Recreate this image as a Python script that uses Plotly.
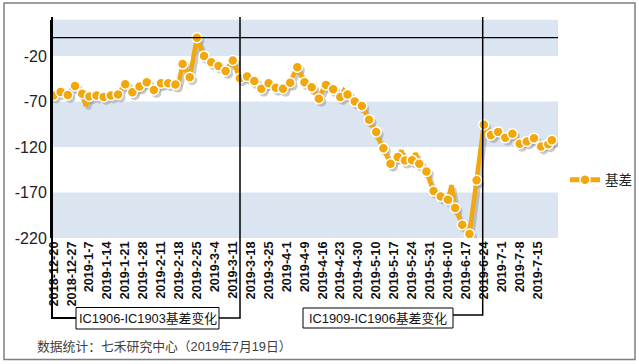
import plotly.graph_objects as go
import pandas as pd

# ---------------- data ----------------
start_date = "2018-12-20"
end_date = "2019-07-19"
holidays = ["2018-12-31", "2019-01-01", "2019-02-04", "2019-02-05", "2019-02-06",
            "2019-02-07", "2019-02-08", "2019-04-05", "2019-05-01", "2019-05-02",
            "2019-05-03", "2019-06-07"]

basis = [
    -63.5, -60, -59.5, -61, -63, -57, -53, -58, -61.5, -75,
    -64.5, -63, -63.5, -64, -65, -64, -63.5, -63, -62.5, -56,
    -51, -55, -60, -57, -53.5, -51, -49, -53, -57.5, -54,
    -50, -50, -50, -50, -51.5, -48, -29, -36, -43.5, -22,
    0, -10, -20, -24, -27, -29, -31, -34, -36.5, -30,
    -25, -35, -44.5, -44, -42.5, -45, -47.5, -52, -56, -53,
    -50, -52, -55, -55, -56, -53, -49.5, -40, -32.5, -41,
    -49, -52, -54.5, -60, -67, -58, -52, -53, -56.5, -60,
    -65, -58, -62.5, -66, -70, -72, -75, -82, -90, -97,
    -103.5, -112, -121.5, -130, -138.5, -134, -131, -124, -135, -135,
    -134.5, -127, -138.5, -142, -147, -158, -168.5, -172, -174.5, -176,
    -178, -162, -187, -196, -205.5, -210, -215.5, -186, -156.5, -126,
    -95.5, -101, -107, -105, -103.5, -107, -110, -108, -105.5, -111,
    -116.5, -115, -114, -112, -110.5, -115, -119.5, -118, -117, -112.5,
]

series_name = "基差"
y_ticks = [-220, -170, -120, -70, -20]
y_tick_text = ["-220", "-170", "-120", "-70", "-20"]
box_labels = ["IC1906-IC1903基差变化", "IC1909-IC1906基差变化"]
footer = "数据统计：七禾研究中心（2019年7月19日）"

# ---------------- derived ----------------
days = pd.bdate_range(start_date, end_date)
days = [d for d in days if d.strftime("%Y-%m-%d") not in holidays]
date_labels = [f"{d.year}-{d.month}-{d.day}" for d in days]
idx = list(range(len(basis)))

W, H = 639, 364
def px(x): return x / W
def py(y): return 1 - y / H

ORANGE = "#F2A80C"
SHADOW = "rgba(140,140,140,0.45)"
FONT = "Liberation Sans, Arial, Noto Sans CJK SC, sans-serif"

x_left, x_right = 52, 558
y_top, y_bot = 19.5, 238
x_range = [-0.42, 140.7]
y_range = [-220, 20]
ppx = (x_right - x_left) / (x_range[1] - x_range[0])
ppy = (y_bot - y_top) / (y_range[1] - y_range[0])
sdx, sdy = 2.5 / ppx, -3.0 / ppy

mk_idx = [i for i in idx if i % 2 == 0] + [idx[-1]]
mk_val = [basis[i] for i in mk_idx]

fig = go.Figure()
# shadow
fig.add_trace(go.Scatter(x=[i + sdx for i in idx], y=[v + sdy for v in basis], mode="lines",
                         line=dict(color=SHADOW, width=4.5), showlegend=False, hoverinfo="skip"))
fig.add_trace(go.Scatter(x=[i + sdx for i in mk_idx], y=[v + sdy for v in mk_val], mode="markers",
                         marker=dict(color=SHADOW, size=10), showlegend=False, hoverinfo="skip"))
# main
fig.add_trace(go.Scatter(x=idx, y=basis, mode="lines", line=dict(color=ORANGE, width=4.5),
                         showlegend=False))
fig.add_trace(go.Scatter(x=mk_idx, y=mk_val, mode="markers",
                         marker=dict(color=ORANGE, size=10, line=dict(color="white", width=1.5)),
                         showlegend=False))
# legend entry
fig.add_trace(go.Scatter(x=[None], y=[None], mode="lines+markers", name=series_name,
                         line=dict(color=ORANGE, width=5),
                         marker=dict(color=ORANGE, size=10, line=dict(color="white", width=1.5))))

shapes = []
# bands
for lo, hi in [(-220, -170), (-120, -70), (-20, 20)]:
    shapes.append(dict(type="rect", xref="x domain", yref="y", x0=0, x1=1, y0=lo, y1=hi,
                       fillcolor="#DBE5F1", line=dict(width=0), layer="below"))
# zero axis line
shapes.append(dict(type="line", xref="x domain", yref="y", x0=0, x1=1, y0=0, y1=0,
                   line=dict(color="black", width=1.3)))
# outer border
shapes.append(dict(type="rect", xref="paper", yref="paper", x0=px(4), x1=px(635), y0=py(359.5), y1=py(3),
                   line=dict(color="#7F7F7F", width=1.5)))
# bracket 1
shapes.append(dict(type="path", xref="paper", yref="paper",
                   path=f"M {px(52)},{py(17)} L {px(52)},{py(318)} L {px(76)},{py(318)}",
                   line=dict(color="black", width=2)))
shapes.append(dict(type="path", xref="paper", yref="paper",
                   path=f"M {px(219)},{py(318)} L {px(240)},{py(318)} L {px(240)},{py(17)}",
                   line=dict(color="black", width=1.5)))
shapes.append(dict(type="rect", xref="paper", yref="paper", x0=px(76), x1=px(219), y0=py(329), y1=py(307.5),
                   line=dict(color="black", width=1), fillcolor="white"))
# bracket 2
shapes.append(dict(type="path", xref="paper", yref="paper",
                   path=f"M {px(453)},{py(315)} L {px(482.7)},{py(315)} L {px(482.7)},{py(17)}",
                   line=dict(color="black", width=1.5)))
shapes.append(dict(type="rect", xref="paper", yref="paper", x0=px(303), x1=px(453), y0=py(328), y1=py(308),
                   line=dict(color="black", width=1), fillcolor="white"))

annotations = [
    dict(text=box_labels[0], xref="paper", yref="paper", x=px(147.5), y=py(318.5), showarrow=False,
         font=dict(family=FONT, size=12.8, color="#111"), xanchor="center", yanchor="middle"),
    dict(text=box_labels[1], xref="paper", yref="paper", x=px(378), y=py(318), showarrow=False,
         font=dict(family=FONT, size=12.8, color="#111"), xanchor="center", yanchor="middle"),
    dict(text=footer, xref="paper", yref="paper", x=px(35), y=py(346), showarrow=False,
         font=dict(family=FONT, size=12.8, color="#404040"), xanchor="left", yanchor="middle"),
]

fig.update_layout(
    width=W, height=H, margin=dict(l=0, r=0, t=0, b=0, autoexpand=False),
    paper_bgcolor="white", plot_bgcolor="white",
    font=dict(family=FONT),
    shapes=shapes, annotations=annotations,
    legend=dict(x=px(565), y=py(180), xanchor="left", yanchor="middle",
                font=dict(family=FONT, size=13.5, color="#222"), bgcolor="rgba(0,0,0,0)"),
    xaxis=dict(domain=[px(x_left), px(x_right)], range=x_range, showgrid=False, zeroline=False,
               showline=False, tickmode="array", tickvals=idx[::5], ticktext=date_labels[::5],
               tickangle=-90, tickfont=dict(family=FONT, size=12.7, color="#111", weight="bold"),
               ticks="", automargin=False),
    yaxis=dict(domain=[py(y_bot), py(y_top)], range=y_range, showgrid=False, zeroline=False,
               showline=True, linecolor="black", linewidth=2, tickmode="array", tickvals=y_ticks,
               ticktext=y_tick_text, tickfont=dict(family=FONT, size=16, color="#222"), ticks="",
               automargin=False),
)

fig.write_html("out.html", config={"displayModeBar": False},
               post_script="document.body.style.margin='0';document.body.style.overflow='hidden';")
